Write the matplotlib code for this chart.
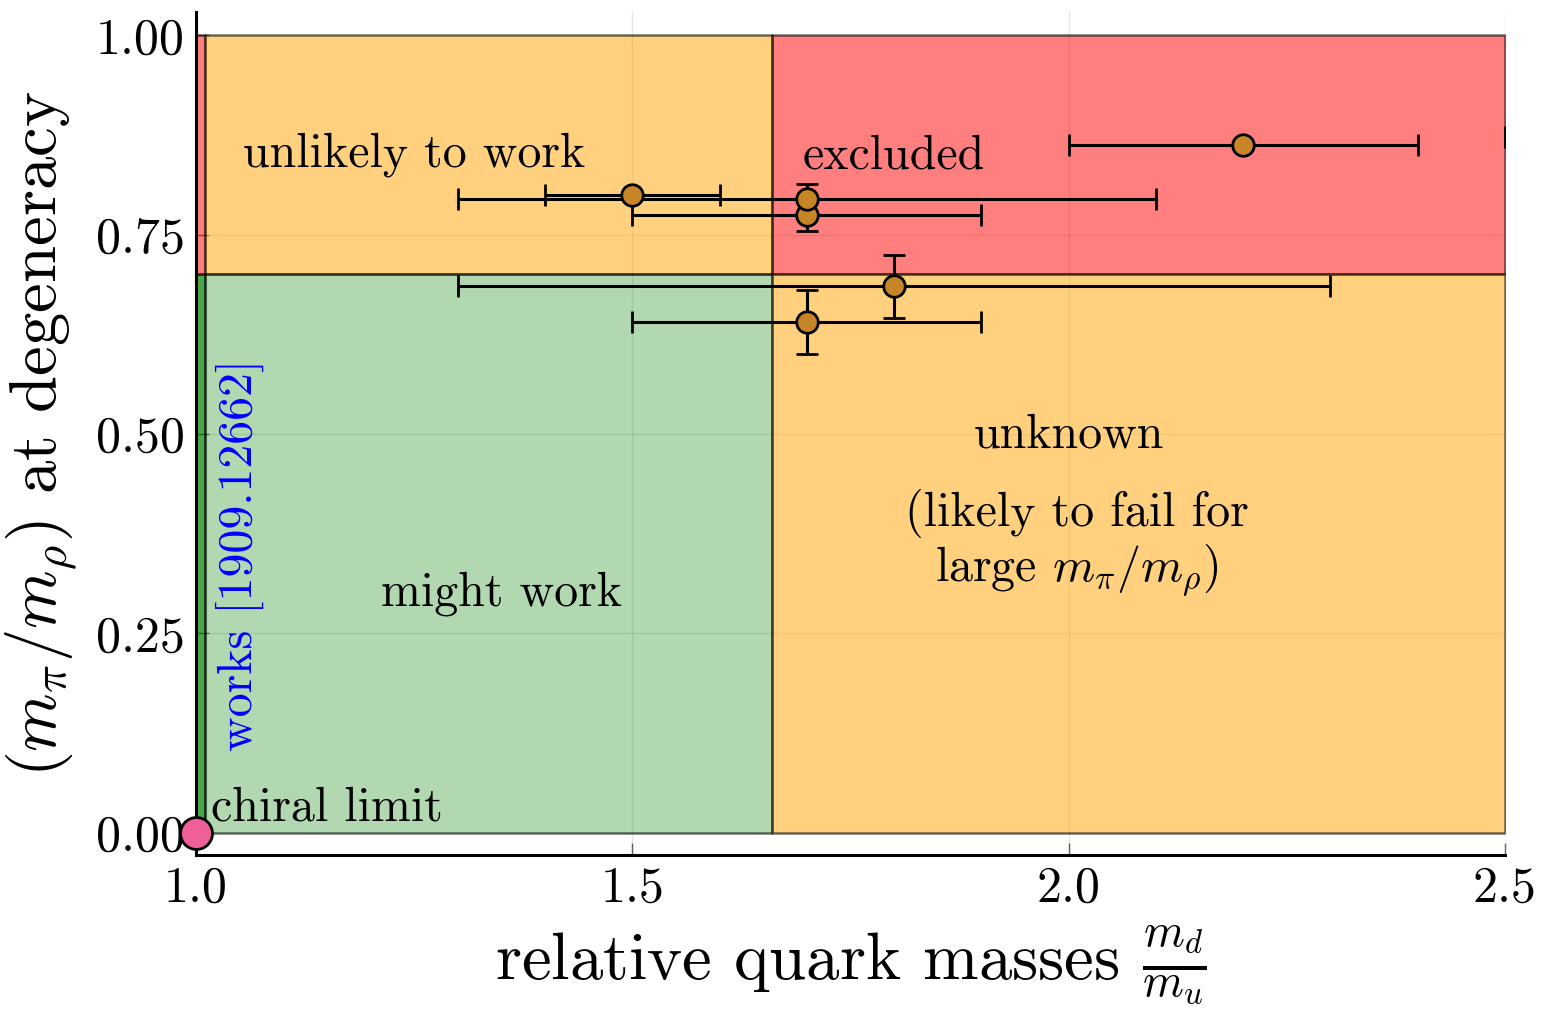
import matplotlib
matplotlib.use("Agg")
import matplotlib.pyplot as plt
from matplotlib.colors import to_rgba

plt.rcParams['font.family'] = 'cmr10'
plt.rcParams['mathtext.fontset'] = 'cm'
plt.rcParams['axes.formatter.use_mathtext'] = True

# regioes: limites em x e y
reg_x0 = [1.0, 1.0, 1.01, 1.66, 1.01, 1.66]
reg_x1 = [1.01, 1.01, 1.66, 2.5, 1.66, 2.5]
reg_y0 = [0.0, 0.7, 0.7, 0.7, 0.0, 0.0]
reg_y1 = [0.7, 1.0, 1.0, 1.0, 0.7, 0.7]
reg_cor = ['green', 'red', 'orange', 'red', 'green', 'orange']
reg_alpha = [0.7, 0.5, 0.5, 0.5, 0.3, 0.5]

# pontos com barras de erro
x_pts = [1.5, 1.7, 1.7, 1.8, 1.7, 2.2, 2.7]
y_pts = [0.80, 0.775, 0.795, 0.685, 0.64, 0.862, 0.872]
x_err = [0.1, 0.2, 0.4, 0.5, 0.2, 0.2, 0.2]
y_err = [0.0, 0.02, 0.018, 0.04, 0.04, 0.004, 0.0]

# limite quiral
x_quiral = [1.0]
y_quiral = [0.0]

x_ticks = [1.0, 1.5, 2.0, 2.5]
y_ticks = [0.0, 0.25, 0.5, 0.75, 1.0]

fig = plt.figure(figsize=(15.44, 10.13), dpi=100)
ax = fig.add_axes([0.1269, 0.156, 0.8478, 0.832])

for x0, x1, y0, y1, c, a in zip(reg_x0, reg_x1, reg_y0, reg_y1, reg_cor, reg_alpha):
    ax.fill_between([x0, x1], [y0, y0], [y1, y1], facecolor=to_rgba(c, a),
                    edgecolor=(0, 0, 0, 0.55), linewidth=1.8, zorder=1)

ax.errorbar(x_pts, y_pts, xerr=x_err, yerr=y_err, fmt='o', color='black',
            markerfacecolor='#c88527', markeredgecolor='black', markersize=15.5,
            markeredgewidth=2, elinewidth=2.2, capsize=8, capthick=2.2, zorder=3)

ax.plot(x_quiral, y_quiral, 'o', markersize=23, markerfacecolor='#ef5f98',
        markeredgecolor='black', markeredgewidth=2, clip_on=False, zorder=5)

fs = 34.5
ax.text(1.25, 0.85, "unlikely to work", fontsize=fs, ha='center', va='center')
ax.text(1.80, 0.848, "excluded", fontsize=fs, ha='center', va='center')
ax.text(1.35, 0.30, "might work", fontsize=fs, ha='center', va='center')
ax.text(2.0, 0.498, "unknown", fontsize=fs, ha='center', va='center')
ax.text(2.01, 0.362, "(likely to fail for\nlarge $m_\\pi/m_\\rho$)", fontsize=fs,
        ha='center', va='center', multialignment='center', linespacing=1.12)
ax.text(1.05, 0.348, "works [1909.12662]", fontsize=fs, color='blue',
        rotation=90, ha='center', va='center')
ax.text(1.017, 0.03, "chiral limit", fontsize=fs, ha='left', va='center')

ax.set_xlim(1.0, 2.5)
ax.set_ylim(-0.028, 1.029)
ax.set_xticks(x_ticks)
ax.set_xticklabels(["%.1f" % v for v in x_ticks])
ax.set_yticks(y_ticks)
ax.set_yticklabels(["%.2f" % v for v in y_ticks])
ax.tick_params(direction='in', length=9, width=1, color=(0, 0, 0, 0.6),
               labelsize=36, pad=8)
ax.grid(True, color='black', alpha=0.1, linewidth=1)
ax.set_axisbelow(True)

for s in ['top', 'right']:
    ax.spines[s].set_visible(False)
for s in ['left', 'bottom']:
    ax.spines[s].set_linewidth(2.2)

ax.set_xlabel("relative quark masses $\\frac{m_d}{m_u}$", fontsize=48, labelpad=8)
ax.set_ylabel("$(m_\\pi/m_\\rho)$ at degeneracy", fontsize=48, labelpad=12)

fig.savefig("out.png", dpi=100)
